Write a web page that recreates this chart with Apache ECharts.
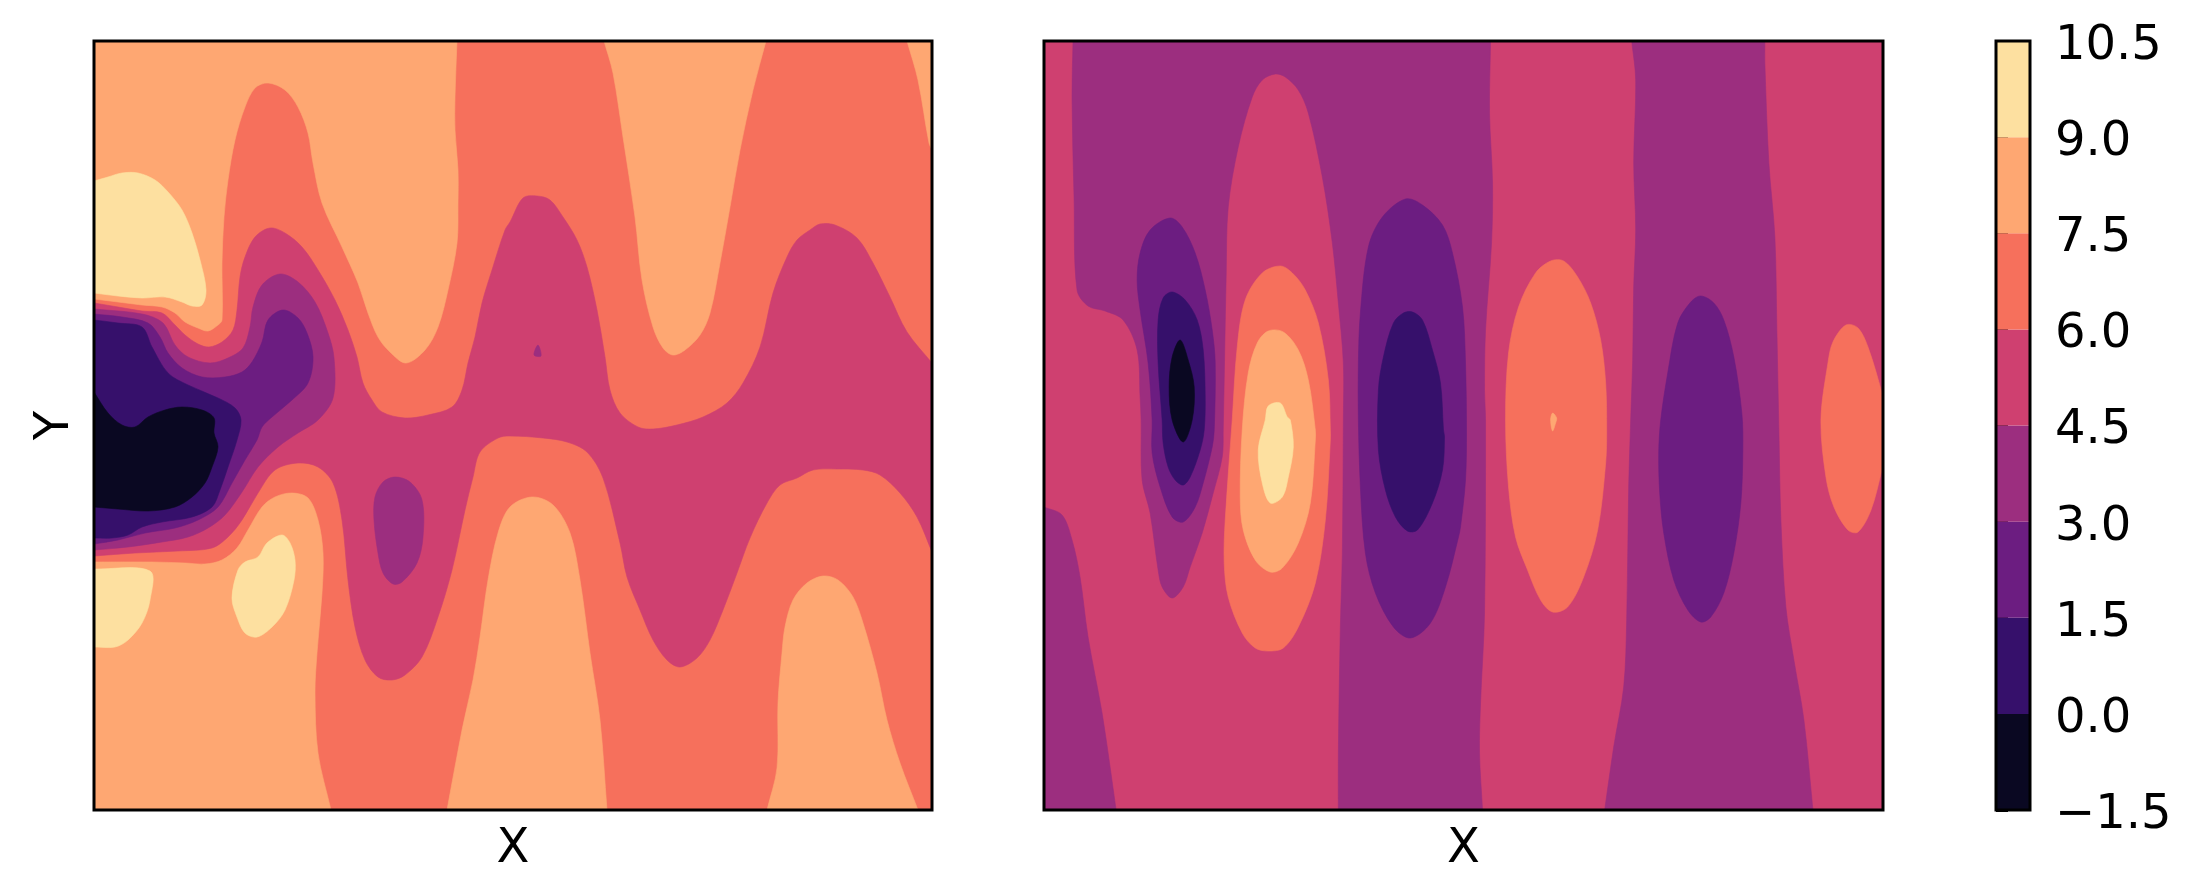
<!DOCTYPE html>
<html>
<head>
<meta charset="utf-8">
<style>html,body{margin:0;padding:0;background:#fff}#c{width:2210px;height:887px}</style>
<script src="https://cdn.jsdelivr.net/npm/echarts@6/dist/echarts.min.js"></script>
</head>
<body>
<div id="c"></div>
<script>
const levels = [-1.5, 0, 1.5, 3, 4.5, 6, 7.5, 9, 10.5];
const bandColors = ['#0a0822', '#36106b', '#6c1d81', '#9c2e7f', '#cf4070', '#f6705c', '#fea772', '#fde0a0'];
const xExtent = [0, 838];
const yExtent = [0, 769];

// Left panel: filled contour outlines (x, y in data units), lowest-priority first
const leftBackgroundBand = 5;
const leftPeachTopLeft = [[0,769],[363,769],[361,713],[361,680],[364,640],[364,607],[363,567],[354,520],[344,483],[331,460],[312,447],[296,458],[284,473],[274,497],[264,527],[248,563],[228,607],[219,647],[214,677],[204,703],[191,720],[174,727],[161,722],[151,703],[141,670],[134,630],[130,593],[128,547],[128,490],[124,485],[114,479],[104,482],[91,488],[81,497],[68,503],[48,505],[24,508],[0,511]];
const leftPeachTopCenter = [[510,769],[519,737],[529,673],[541,593],[548,530],[559,483],[569,462],[579,455],[591,460],[606,475],[616,497],[626,547],[636,603],[646,660],[659,720],[672,769]];
const leftPeachTopRight = [[813,769],[824,730],[835,667],[838,660],[838,769]];
const leftPeachBottomLeft = [[0,248],[58,248],[91,247],[111,246],[128,250],[143,262],[154,280],[168,303],[181,313],[198,317],[214,312],[224,290],[229,257],[228,217],[223,157],[221,117],[224,57],[237,0],[0,0]];
const leftPeachBottomCenter = [[353,0],[368,80],[379,130],[386,173],[394,230],[404,277],[416,303],[438,313],[459,305],[476,277],[486,230],[496,157],[506,90],[513,0]];
const leftPeachBottomRight = [[673,0],[683,42],[684,107],[688,157],[691,183],[699,210],[713,227],[729,234],[744,230],[759,213],[769,187],[783,137],[793,90],[806,47],[824,0]];
const leftYellowTop = [[0,629],[14,633],[28,637],[44,637],[61,630],[74,618],[88,600],[98,577],[106,550],[112,520],[108,505],[98,504],[88,508],[71,513],[48,512],[24,514],[0,517]];
const leftYellowBottomEdge = [[0,241],[56,239],[56,210],[48,187],[34,170],[21,163],[0,163]];
const leftYellowBottomMid = [[188,275],[196,267],[201,250],[200,230],[191,200],[178,183],[163,173],[151,177],[143,193],[138,212],[144,240],[151,248],[164,253],[173,267]];
const leftPink = [[0,507],[24,503],[48,499],[68,497],[81,485],[91,475],[104,466],[115,463],[128,468],[139,480],[143,500],[146,533],[151,553],[161,573],[176,582],[191,577],[208,563],[224,540],[241,510],[254,480],[263,453],[269,427],[278,410],[288,398],[311,392],[334,395],[358,403],[368,420],[374,447],[381,473],[388,507],[398,540],[411,580],[416,588],[429,612],[443,614],[456,610],[469,593],[483,570],[493,543],[503,500],[511,453],[516,420],[526,397],[544,383],[559,381],[583,385],[609,393],[633,407],[649,427],[666,463],[679,517],[693,553],[703,570],[716,580],[726,586],[741,585],[763,572],[779,547],[796,513],[813,478],[838,447],[838,258],[823,293],[806,317],[786,335],[769,340],[743,341],[719,340],[703,332],[686,325],[673,307],[656,272],[643,237],[629,200],[616,170],[603,152],[586,143],[573,150],[559,170],[546,200],[533,233],[526,267],[509,332],[493,358],[473,368],[449,372],[416,374],[404,372],[386,358],[379,333],[371,300],[358,240],[344,193],[328,153],[311,135],[298,130],[284,133],[271,150],[261,183],[254,230],[248,290],[239,327],[224,343],[204,347],[181,340],[164,317],[148,290],[134,273],[118,262],[84,259],[41,257],[0,254]];
const leftPlumMain = [[0,501],[48,496],[69,487],[81,465],[94,453],[116,447],[134,452],[149,462],[156,483],[159,503],[168,525],[186,536],[204,528],[221,508],[234,477],[240,452],[239,412],[224,390],[204,377],[184,363],[164,343],[148,318],[131,295],[114,282],[94,273],[68,268],[34,263],[0,260]];
const leftPlumOval = [[301,333],[316,328],[328,310],[329,273],[323,247],[308,228],[299,226],[289,237],[284,257],[280,290],[281,313],[289,328]];
const leftPlumSpeck = [[444,465],[447,454],[440,455]];
const leftPurple = [[0,496],[28,493],[54,487],[66,473],[74,457],[88,442],[108,433],[131,433],[148,438],[158,448],[168,468],[174,490],[189,500],[204,492],[213,477],[219,453],[214,427],[198,410],[178,393],[168,383],[163,370],[151,350],[138,327],[124,303],[104,290],[81,282],[51,277],[24,270],[0,266]];
const leftIndigo = [[0,490],[24,487],[48,483],[58,463],[74,437],[94,425],[124,412],[141,402],[147,390],[143,370],[134,343],[126,320],[118,303],[98,293],[68,288],[48,283],[34,275],[18,272],[0,272]];
const leftDark = [[0,418],[14,397],[28,385],[41,383],[54,393],[71,400],[88,403],[108,400],[120,392],[120,377],[124,363],[118,343],[111,327],[98,313],[81,303],[54,299],[24,301],[0,303]];
const leftContours = [
  [6, leftPeachTopLeft], [6, leftPeachTopCenter], [6, leftPeachTopRight], [6, leftPeachBottomLeft], [6, leftPeachBottomCenter], [6, leftPeachBottomRight],
  [7, leftYellowTop], [7, leftYellowBottomEdge], [7, leftYellowBottomMid],
  [4, leftPink], [3, leftPlumMain], [3, leftPlumOval], [3, leftPlumSpeck],
  [2, leftPurple], [1, leftIndigo], [0, leftDark]
];

// Right panel
const rightBackgroundBand = 4;
const rightPlumLeft = [[29,769],[446,769],[445,697],[448,627],[447,567],[441,480],[440,420],[441,390],[440,197],[436,107],[435,57],[438,0],[294,0],[294,57],[296,183],[298,257],[299,390],[299,447],[294,507],[288,567],[278,633],[264,697],[254,720],[241,733],[231,736],[218,730],[208,713],[194,663],[184,603],[182,537],[179,380],[178,353],[169,317],[158,277],[146,243],[139,223],[128,212],[118,223],[114,240],[106,297],[98,330],[97,390],[96,413],[93,460],[79,490],[61,499],[44,504],[33,520],[30,613],[28,713]];
const rightPlumCorner = [[0,303],[18,295],[28,270],[36,233],[44,173],[58,97],[66,43],[72,0],[0,0]];
const rightPlumMid = [[587,769],[720,769],[720,747],[724,647],[730,573],[732,480],[734,380],[736,290],[741,203],[749,150],[759,90],[768,0],[560,0],[569,63],[579,123],[582,190],[584,323],[586,390],[588,450],[589,523],[591,580],[589,647],[591,730]];
const rightPurpleA = [[126,592],[138,583],[151,557],[161,520],[168,480],[171,447],[170,380],[168,363],[159,327],[151,303],[139,288],[128,293],[116,323],[108,357],[108,390],[104,447],[96,500],[93,530],[96,557],[106,580]];
const rightPurpleB = [[361,611],[378,605],[398,585],[408,557],[418,503],[421,447],[422,380],[421,330],[416,283],[414,273],[401,223],[386,187],[366,172],[349,183],[331,217],[321,257],[316,323],[314,390],[314,447],[316,497],[324,563],[338,593]];
const rightPurpleC = [[656,514],[669,507],[679,490],[689,453],[697,397],[698,360],[696,307],[689,257],[679,217],[666,193],[656,188],[643,200],[629,230],[619,277],[615,317],[614,357],[616,390],[623,437],[633,487],[646,508]];
const rightIndigoA = [[128,518],[141,510],[153,490],[159,460],[161,413],[160,380],[156,360],[146,333],[139,325],[131,330],[124,343],[119,367],[118,390],[114,447],[114,490],[119,512]];
const rightIndigoB = [[368,498],[378,490],[388,460],[396,427],[399,380],[400,373],[398,340],[388,307],[373,280],[363,279],[351,293],[341,320],[334,360],[334,420],[339,453],[349,487],[359,497]];
const rightDark = [[136,470],[144,450],[150,423],[148,390],[139,368],[128,390],[125,423],[128,453]];
const rightCoralA = [[236,544],[248,537],[261,520],[274,487],[284,430],[286,380],[286,370],[281,290],[271,227],[254,183],[239,162],[224,159],[211,162],[198,177],[184,213],[180,247],[181,290],[188,390],[193,463],[201,510],[218,537]];
const rightCoralB = [[506,549],[519,549],[533,533],[546,507],[556,470],[561,427],[562,380],[561,347],[553,280],[539,233],[523,203],[508,198],[496,210],[483,240],[471,273],[464,323],[461,390],[464,457],[474,503],[491,537]];
const rightCoralC = [[801,485],[813,482],[823,463],[837,417],[838,410],[838,345],[837,340],[826,300],[813,278],[803,280],[789,303],[781,333],[776,390],[783,447],[788,468]];
const rightPeachA = [[224,479],[239,478],[254,460],[264,430],[271,380],[271,370],[266,307],[254,267],[238,242],[226,238],[211,250],[199,280],[196,313],[198,380],[204,437],[213,467]];
const rightPeachSpeck = [[508,397],[512,392],[511,387],[508,379],[506,390]];
const rightYellow = [[224,404],[236,407],[243,393],[246,390],[249,363],[244,333],[238,313],[226,307],[218,327],[214,360],[221,390]];
const rightContours = [
  [3, rightPlumLeft], [3, rightPlumCorner], [3, rightPlumMid],
  [2, rightPurpleA], [2, rightPurpleB], [2, rightPurpleC],
  [1, rightIndigoA], [1, rightIndigoB], [0, rightDark],
  [5, rightCoralA], [5, rightCoralB], [5, rightCoralC],
  [6, rightPeachA], [6, rightPeachSpeck], [7, rightYellow]
];

const FONT = 'DejaVu Sans';
const OVERRUN = 40;

function onEdge(p) {
  return p[0] <= xExtent[0] || p[0] >= xExtent[1] || p[1] <= yExtent[0] || p[1] >= yExtent[1];
}
// An outline that ends on the panel edge keeps its end point and gains one point
// beyond the frame along its own direction; the clip then hides the turn outside.
function runPastEdges(points) {
  const n = points.length;
  const out = [];
  points.forEach((p, i) => {
    if (!onEdge(p)) { out.push(p); return; }
    const a = points[(i - 1 + n) % n], b = points[(i + 1) % n];
    const innerPrev = !onEdge(a), innerNext = !onEdge(b);
    if (!innerPrev && !innerNext) {
      out.push([
        p[0] <= xExtent[0] ? p[0] - OVERRUN : p[0] >= xExtent[1] ? p[0] + OVERRUN : p[0],
        p[1] <= yExtent[0] ? p[1] - OVERRUN : p[1] >= yExtent[1] ? p[1] + OVERRUN : p[1]
      ]);
      return;
    }
    const inner = innerPrev ? a : b;
    const dx = p[0] - inner[0], dy = p[1] - inner[1];
    const onSideX = p[0] <= xExtent[0] || p[0] >= xExtent[1];
    const k = OVERRUN / Math.max(1, Math.abs(onSideX ? dx : dy));
    const beyond = [p[0] + dx * k, p[1] + dy * k];
    if (innerPrev) { out.push(p, beyond); } else { out.push(beyond, p); }
  });
  return out;
}

function contourSeries(idx, bgBand, contours) {
  const bg = [[xExtent[0], yExtent[0]], [xExtent[1], yExtent[0]], [xExtent[1], yExtent[1]], [xExtent[0], yExtent[1]]];
  const all = [[bgBand, bg]].concat(contours);
  return {
    type: 'custom', coordinateSystem: 'cartesian2d', xAxisIndex: idx, yAxisIndex: idx,
    silent: true, animation: false,
    data: all.map(c => [c[1][0][0], c[1][0][1]]),
    renderItem(params, api) {
      const c = all[params.dataIndex];
      const cs = params.coordSys;
      const pts = params.dataIndex === 0 ? c[1] : runPastEdges(c[1]);
      return {
        type: 'polygon',
        shape: { points: pts.map(p => api.coord(p)), smooth: params.dataIndex === 0 ? 0 : 0.33 },
        clipPath: { type: 'rect', shape: { x: cs.x, y: cs.y, width: cs.width, height: cs.height } },
        style: { fill: bandColors[c[0]], stroke: bandColors[c[0]], lineWidth: 0.6 }
      };
    }
  };
}

const colorbarSeries = {
  type: 'custom', coordinateSystem: 'cartesian2d', xAxisIndex: 2, yAxisIndex: 2,
  silent: true, animation: false,
  data: bandColors.map((c, i) => [0.5, levels[i], levels[i + 1]]),
  encode: { x: 0, y: [1, 2] },
  renderItem(params, api) {
    const lo = api.coord([0, api.value(1)]);
    const hi = api.coord([1, api.value(2)]);
    return {
      type: 'rect',
      shape: { x: lo[0], y: hi[1], width: hi[0] - lo[0], height: lo[1] - hi[1] },
      style: { fill: bandColors[params.dataIndex] }
    };
  }
};

function plainX(idx, name) {
  return {
    gridIndex: idx, type: 'value', min: xExtent[0], max: xExtent[1],
    name: name, nameLocation: 'middle', nameGap: 16,
    nameTextStyle: { fontFamily: FONT, fontSize: 48, color: '#000', verticalAlign: 'top' },
    axisLine: { show: false }, axisTick: { show: false }, axisLabel: { show: false }, splitLine: { show: false }
  };
}
function plainY(idx, name) {
  return {
    gridIndex: idx, type: 'value', min: yExtent[0], max: yExtent[1],
    name: name, nameLocation: 'middle', nameGap: 14,
    nameTextStyle: { fontFamily: FONT, fontSize: 48, color: '#000' },
    axisLine: { show: false }, axisTick: { show: false }, axisLabel: { show: false }, splitLine: { show: false }
  };
}

const chart = echarts.init(document.getElementById('c'), null, { renderer: 'canvas' });
chart.setOption({
  animation: false,
  backgroundColor: '#fff',
  grid: [
    { left: 94, top: 41, width: 838, height: 769, show: true, z: 10, borderColor: '#000', borderWidth: 3, backgroundColor: 'transparent' },
    { left: 1044, top: 41, width: 839, height: 769, show: true, z: 10, borderColor: '#000', borderWidth: 3, backgroundColor: 'transparent' },
    { left: 1996, top: 41, width: 34, height: 769, show: true, z: 10, borderColor: '#000', borderWidth: 3, backgroundColor: 'transparent' }
  ],
  xAxis: [
    plainX(0, 'X'), plainX(1, 'X'),
    { gridIndex: 2, type: 'value', min: 0, max: 1, axisLine: { show: false }, axisTick: { show: false }, axisLabel: { show: false }, splitLine: { show: false } }
  ],
  yAxis: [
    plainY(0, 'Y'),
    Object.assign(plainY(1, ''), { name: '' }),
    {
      gridIndex: 2, type: 'value', position: 'right', min: levels[0], max: levels[levels.length - 1], interval: 1.5,
      axisLine: { show: false }, splitLine: { show: false },
      axisTick: { show: true, length: 12, lineStyle: { color: '#000', width: 3 } },
      axisLabel: { show: true, margin: 25, verticalAlign: 'top', lineHeight: 11, fontFamily: FONT, fontSize: 48, color: '#000',
        formatter: v => v.toFixed(1).replace('-', '\u2212') }
    }
  ],
  series: [
    contourSeries(0, leftBackgroundBand, leftContours),
    contourSeries(1, rightBackgroundBand, rightContours),
    colorbarSeries
  ]
});
</script>
</body>
</html>
